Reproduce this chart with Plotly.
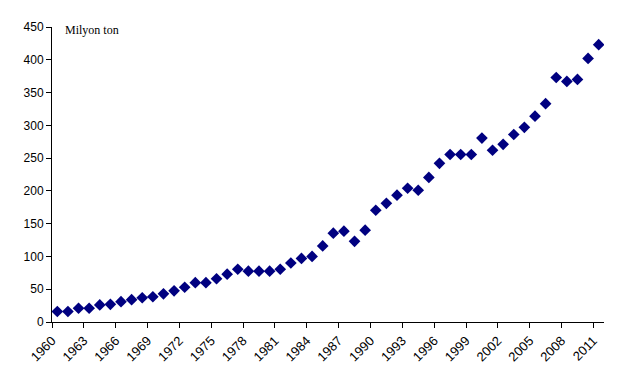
import plotly.graph_objects as go

years = list(range(1960, 2012))
values = [16, 16, 21, 21, 26, 27, 31, 34, 37, 38.5,
          43, 47.5, 53, 60, 60, 66, 73, 80.5, 77.5, 77.5,
          77.5, 80.5, 90, 97, 100, 116, 135.5, 138.5, 123, 140,
          170.5, 181, 193.5, 204, 201, 220.5, 242, 255.5, 255.5, 255.5,
          280.5, 262, 271, 286, 297, 314, 333, 373, 367, 370,
          402, 423]
tick_labels = [str(y) for y in range(1960, 2012, 3)]
y_ticks = list(range(0, 451, 50))
unit_label = "Milyon ton"

fig = go.Figure()
fig.add_trace(go.Scatter(
    x=years, y=values, mode="markers",
    marker=dict(symbol="diamond", size=9, color="#000080",
                line=dict(width=0)),
    showlegend=False,
))

# page body has an 8px default margin; figure sized/margined to compensate
fig.update_layout(
    width=612, height=376,
    margin=dict(l=44, r=16, t=19, b=62),
    paper_bgcolor="white", plot_bgcolor="white",
    font=dict(family="Liberation Sans, Arial, sans-serif", size=12, color="#000000"),
    annotations=[dict(
        text=unit_label, xref="paper", yref="paper",
        x=0.02, y=0.99, xanchor="left", yanchor="middle", showarrow=False,
        font=dict(family="Liberation Serif, Times New Roman, serif", size=12, color="#000000"),
    )],
)
fig.update_xaxes(
    automargin=False,
    range=[years[0] - 0.5, years[-1] + 0.5],
    tickmode="array",
    tickvals=[int(t) - 0.5 for t in tick_labels],
    ticktext=tick_labels,
    tickangle=-45,
    showgrid=False, zeroline=False,
    showline=True, linecolor="#000000", linewidth=1,
    ticks="outside", ticklen=5, tickcolor="#000000",
    tickfont=dict(size=13),
)
fig.update_yaxes(
    automargin=False,
    range=[0, 450],
    tickmode="array", tickvals=y_ticks,
    showgrid=False, zeroline=False,
    showline=True, linecolor="#000000", linewidth=1,
    ticks="outside", ticklen=5, tickcolor="#000000",
    tickfont=dict(size=12),
)

fig.write_html("out.html")
